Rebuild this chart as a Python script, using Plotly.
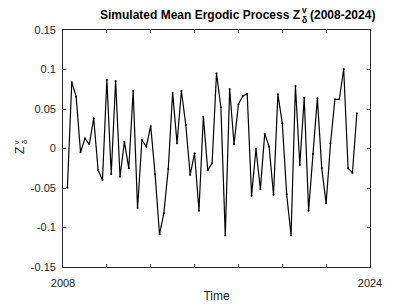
import plotly.graph_objects as go

# data
values = [-0.0496, 0.0838, 0.0656, -0.0048, 0.0129, 0.0053, 0.0382, -0.0272, -0.0399, 0.0871,
          -0.0323, 0.0855, -0.0357, 0.0086, -0.0251, 0.0728, -0.0757, 0.0108, 0.0023, 0.0285,
          -0.0327, -0.1086, -0.082, -0.026, 0.0707, 0.0066, 0.0728, 0.0297, -0.0335, -0.0061,
          -0.0787, 0.0403, -0.0272, -0.0188, 0.0952, 0.0522, -0.110, 0.0753, 0.0053, 0.056,
          0.0665, 0.069, -0.0597, -0.0003, -0.0517, 0.0188, 0.0023, -0.0585, 0.0686, 0.0319,
          -0.058, -0.110, 0.0791, -0.0209, 0.0643, -0.0787, -0.007, 0.0635, -0.0251, -0.0694,
          0.0066, 0.0623, 0.0623, 0.1006, -0.0251, -0.0306, 0.0446]
steps = list(range(1, len(values) + 1))
x_tickvals = [0, 10, 20, 30, 40, 50, 60, 70]
x_ticktext = ["2008", "", "", "", "", "", "", "2024"]
y_tickvals = [-0.15, -0.1, -0.05, 0, 0.05, 0.1, 0.15]
y_ticktext = ["-0.15", "-0.1", "-0.05", "0", "0.05", "0.1", "0.15"]

W, H = 409, 306
L, R, T, B = 63, 39, 30, 39
pw, ph = W - L - R, H - T - B

def px(xp):
    return (xp - L) / pw

def py(yp):
    return (H - B - yp) / ph

axis_color = "#262626"
font = "Liberation Sans, Arial, sans-serif"

fig = go.Figure()
fig.add_trace(go.Scatter(
    x=steps, y=values, mode="lines+markers",
    line=dict(color="black", width=1.2),
    marker=dict(color="black", size=2),
    showlegend=False,
))

fig.update_layout(
    width=W, height=H,
    margin=dict(l=L, r=R, t=T, b=B, pad=0, autoexpand=False),
    paper_bgcolor="white", plot_bgcolor="white",
    font=dict(family=font, size=11, color=axis_color),
    xaxis=dict(
        range=[0, 70], tickvals=x_tickvals, ticktext=x_ticktext,
        ticks="inside", ticklen=3, tickcolor=axis_color, tickwidth=0.8,
        showline=True, linecolor=axis_color, linewidth=0.8, mirror="ticks",
        showgrid=False, zeroline=False, automargin=False,
        tickfont=dict(size=11, color=axis_color),
        ticklabelstandoff=6,
        title=dict(text="Time", font=dict(size=12, color=axis_color), standoff=3),
    ),
    yaxis=dict(
        range=[-0.15, 0.15], tickvals=y_tickvals, ticktext=y_ticktext,
        ticks="inside", ticklen=3, tickcolor=axis_color, tickwidth=0.8,
        showline=True, linecolor=axis_color, linewidth=0.8, mirror="ticks",
        showgrid=False, zeroline=False, automargin=False,
        tickfont=dict(size=11, color=axis_color),
        ticklabelstandoff=4,
    ),
)

# title built from pieces so the sub/superscript can be stacked
anns = [
    dict(text="<b>Simulated Mean Ergodic Process Z</b>", x=px(301.5), y=py(15.5), xanchor="right",
         font=dict(size=12, color="black")),
    dict(text="<b>v</b>", x=px(304.5), y=py(10), xanchor="center", font=dict(size=8.5, color="black")),
    dict(text="<b>δ</b>", x=px(304.5), y=py(20), xanchor="center", font=dict(size=8.5, color="black")),
    dict(text="<b>(2008-2024)</b>", x=px(308), y=py(15.5), xanchor="left",
         font=dict(size=12, color="black")),
    # rotated y label
    dict(text="Z", x=px(20), y=py(151), xanchor="center", textangle=-90,
         font=dict(size=12, color=axis_color)),
    dict(text="v", x=px(15.5), y=py(142), xanchor="center", textangle=-90,
         font=dict(size=8, color=axis_color)),
    dict(text="δ", x=px(24), y=py(142), xanchor="center", textangle=-90,
         font=dict(size=8, color=axis_color)),
]
for a in anns:
    fig.add_annotation(xref="paper", yref="paper", showarrow=False, yanchor="middle", **a)

fig.write_html("out.html", config={"displayModeBar": False},
               post_script="document.body.style.margin='0px';")
